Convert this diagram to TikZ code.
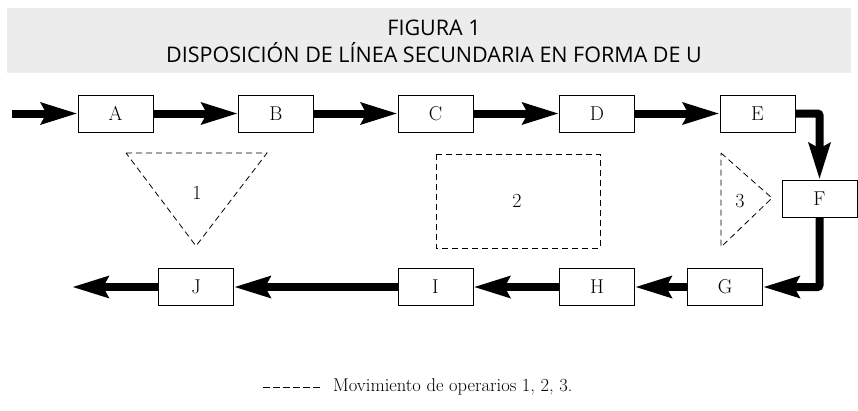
\documentclass[tikz,border=0pt]{standalone}
\usepackage{fontspec}
\newfontfamily\titlefont{Open Sans}
\usetikzlibrary{arrows.meta}
\definecolor{bannergray}{HTML}{ECECEC}
\begin{document}
\begin{tikzpicture}[x=1pt,y=-1pt,
  stepbox/.style={draw,line width=1pt,minimum width=75pt,minimum height=37pt,inner sep=0pt,font=\fontsize{20}{20}\selectfont},
  flow/.style={line width=8pt,-{Stealth[length=36pt,width=21pt,inset=5pt]}},
  oper/.style={draw,dashed,dash pattern=on 6pt off 4pt,line width=0.8pt},
  lbl/.style={font=\fontsize{20}{20}\selectfont,inner sep=0pt},
  ttl/.style={font=\titlefont\fontsize{21.5}{21.5}\selectfont,anchor=base,inner sep=0pt}]
\useasboundingbox (0,0) rectangle (858,410);
\fill[bannergray] (7,8) rectangle (851,73);
\node[ttl] (title1) at (434,35) {FIGURA 1};
\node[ttl] (title2) at (434,62) {DISPOSICIÓN DE LÍNEA SECUNDARIA EN FORMA DE U};
\node[stepbox] (A) at (115.5,113.5) {A};
\node[stepbox] (B) at (276,113.5) {B};
\node[stepbox] (C) at (435.5,113.5) {C};
\node[stepbox] (D) at (597,113.5) {D};
\node[stepbox] (E) at (757.5,113.5) {E};
\node[stepbox] (F) at (819.5,198.5) {F};
\node[stepbox] (G) at (725,287) {G};
\node[stepbox] (H) at (597,287) {H};
\node[stepbox] (I) at (435.5,287) {I};
\node[stepbox] (J) at (196,287) {J};
\coordinate (in) at (12,113.5);
\coordinate (out) at (72,287);
\draw[flow] (in) -- (A.west);
\draw[flow] (A) -- (B);
\draw[flow] (B) -- (C);
\draw[flow] (C) -- (D);
\draw[flow] (D) -- (E);
\draw[flow,rounded corners=2pt] (E.east) -| (F.north);
\draw[flow,rounded corners=2pt] (F.south) |- (G.east);
\draw[flow] (G) -- (H);
\draw[flow] (H) -- (I);
\draw[flow] (I) -- (J);
\draw[flow] (J.west) -- (out);
\coordinate (t1a) at (126,153);
\coordinate (t1b) at (267,153);
\coordinate (t1c) at (196,246);
\draw[oper] (t1a) -- (t1b) -- (t1c) -- cycle;
\node[lbl] (n1) at (197,193) {1};
\draw[oper] (436,154) rectangle (600,248);
\node[lbl] (n2) at (517,201) {2};
\coordinate (t3a) at (721,153);
\coordinate (t3b) at (772,198);
\coordinate (t3c) at (721,247);
\draw[oper] (t3a) -- (t3b) -- (t3c) -- cycle;
\node[lbl] (n3) at (740,201) {3};
\coordinate (lg1) at (263,387);
\coordinate (lg2) at (320,387);
\draw[line width=0.9pt,dash pattern=on 7pt off 3pt] (lg1) -- (lg2);
\node[anchor=base west,font=\fontsize{18.5}{18.5}\selectfont,inner sep=0pt] (legend) at (333,391) {Movimiento de operarios 1, 2, 3.};
\end{tikzpicture}
\end{document}
